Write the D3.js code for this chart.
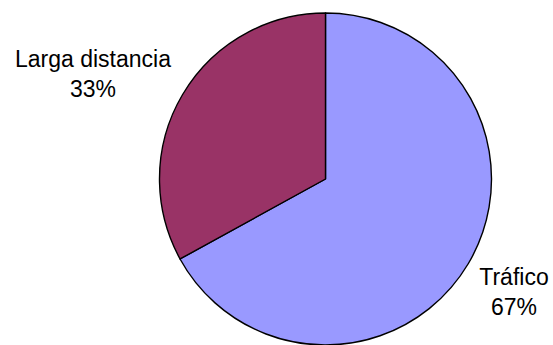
<!DOCTYPE html>
<html>
<head>
<meta charset="utf-8">
<script src="https://cdn.jsdelivr.net/npm/d3@7"></script>
<style>
  html, body { margin: 0; padding: 0; background: #ffffff; }
  svg { display: block; }
  text { font-family: "Liberation Sans", Arial, sans-serif; fill: #000; }
</style>
</head>
<body>
<script>
// Share of each category
const categories = ["Tráfico", "Larga distancia"];
const values = [67, 33];
const colors = ["#9999FF", "#993366"];
const percentLabels = ["67%", "33%"];

const width = 553, height = 345;
const cx = 325.5, cy = 179, radius = 166;

const svg = d3.select("body").append("svg")
  .attr("width", width)
  .attr("height", height);

const pie = d3.pie().sort(null).value(d => d.value);
const arc = d3.arc().innerRadius(0).outerRadius(radius);

const data = categories.map((c, i) => ({ name: c, value: values[i], color: colors[i], pct: percentLabels[i] }));
const arcs = pie(data);

const g = svg.append("g").attr("transform", `translate(${cx},${cy})`);

g.selectAll("path")
  .data(arcs)
  .join("path")
  .attr("d", arc)
  .attr("fill", d => d.data.color)
  .attr("stroke", "#000")
  .attr("stroke-width", 1.4)
  .attr("stroke-linejoin", "round");

// Outside labels: name on first line, percentage underneath
const labelPos = {
  "Tráfico": [514, 285],
  "Larga distancia": [93, 67]
};
const fontSize = 23;
const lineGap = 29.5;

arcs.forEach(a => {
  const [x, y] = labelPos[a.data.name];
  const t = svg.append("text")
    .attr("text-anchor", "middle")
    .attr("font-size", fontSize);
  t.append("tspan").attr("x", x).attr("y", y).text(a.data.name);
  t.append("tspan").attr("x", x).attr("y", y + lineGap).text(a.data.pct);
});
</script>
</body>
</html>
